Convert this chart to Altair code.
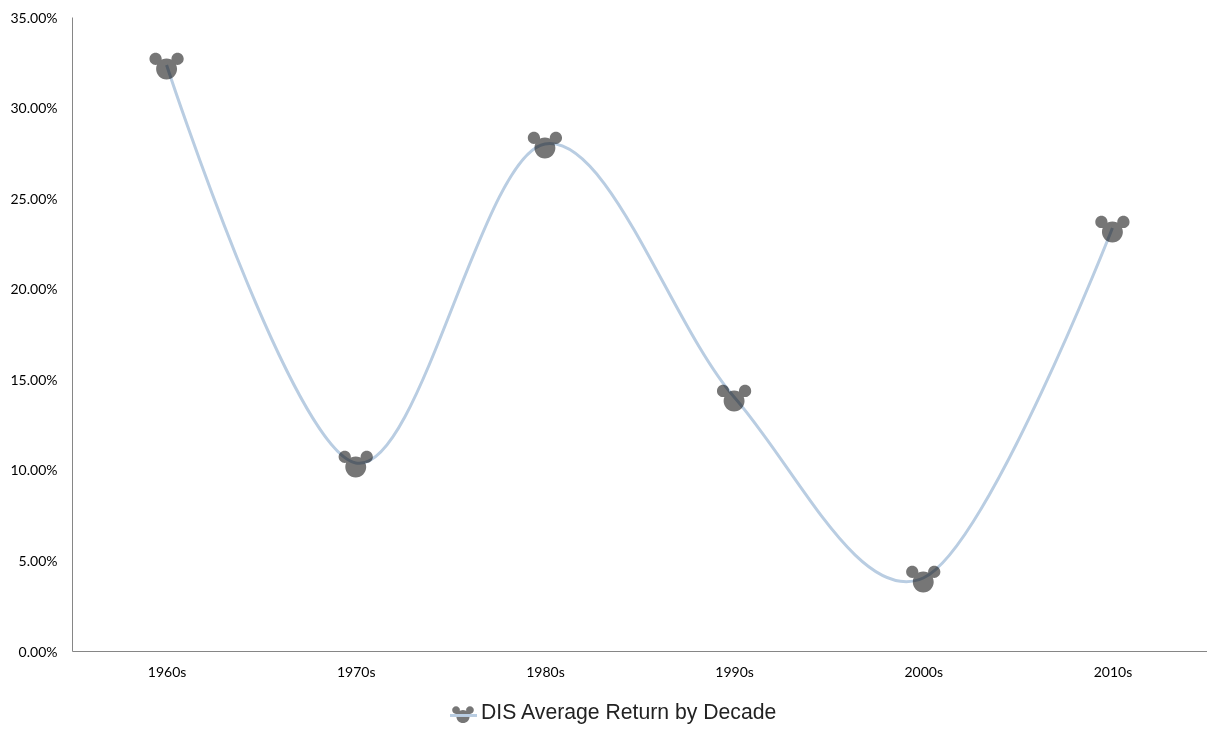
import altair as alt
import pandas as pd

decades = ["1960s", "1970s", "1980s", "1990s", "2000s", "2010s"]
returns = [0.3235, 0.1038, 0.2799, 0.1402, 0.0403, 0.2335]
series_name = "DIS Average Return by Decade"

df = pd.DataFrame({"decade": decades, "ret": returns, "series": series_name})

# Head with two ears, in symbol units, centred on the bounding box
def circle(cx, cy, r):
    return f"M{cx-r},{cy}A{r},{r} 0 1,0 {cx+r},{cy}A{r},{r} 0 1,0 {cx-r},{cy}Z"

MOUSE = circle(0, 0.22, 0.58) + circle(-0.61, -0.34, 0.34) + circle(0.61, -0.34, 0.34)

x_enc = alt.X("decade:N", sort=decades,
              scale=alt.Scale(type="point", padding=0.5),
              axis=alt.Axis(title=None, labelAngle=0, ticks=False, domainColor="#868686",
                            domainWidth=1, labelFont="Lato", labelFontSize=14,
                            labelColor="#000000", labelPadding=14, grid=False))
y_enc = alt.Y("ret:Q", scale=alt.Scale(domain=[0, 0.35]),
              axis=alt.Axis(title=None, format=".2%", values=[0, .05, .1, .15, .2, .25, .3, .35],
                            ticks=False, domainColor="#868686", domainWidth=1,
                            labelFont="Lato", labelFontSize=14, labelColor="#000000",
                            labelPadding=15, labelOffset=1, grid=False))

points = alt.Chart(df).mark_point(shape=MOUSE, filled=True, fill="#767676", opacity=1,
                                  strokeWidth=0, size=1300).encode(x=x_enc, y=y_enc)

line = alt.Chart(df).mark_line(interpolate="cardinal", tension=0, strokeWidth=3, blend="multiply").encode(
    x=x_enc, y=y_enc,
    color=alt.Color("series:N", scale=alt.Scale(range=["#b9cde2"]),
                    legend=alt.Legend(title=None, orient="none", legendX=376, legendY=680,
                                      symbolType="M-1,0.22L1,0.22", symbolSize=730, symbolStrokeWidth=3,
                                      labelFont="Liberation Sans", labelFontSize=21.2,
                                      labelColor="#222222", labelLimit=500, labelOffset=2)),
)

legend_mouse = alt.Chart(df.head(1)).mark_point(shape=MOUSE, filled=True, fill="#767676", opacity=1,
                                                strokeWidth=0, size=520, clip=False).encode(
    x=alt.value(391), y=alt.value(697))

chart = (points + line + legend_mouse).properties(
    width=1135, height=634,
    autosize=alt.AutoSizeParams(type="none"),
    padding={"left": 64, "top": 9, "right": 0, "bottom": 85},
).configure_view(stroke=None)

chart.save("out.html", embed_options={"renderer": "svg", "actions": False})
